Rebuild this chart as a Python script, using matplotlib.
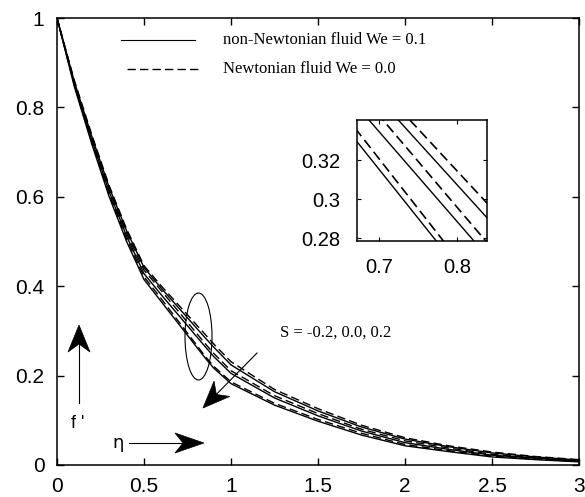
import matplotlib
matplotlib.use("Agg")
import matplotlib.pyplot as plt
from matplotlib.patches import Ellipse, Polygon
from matplotlib.lines import Line2D

# similarity variable
eta = [0.0, 0.1, 0.2, 0.3, 0.4, 0.5, 0.6, 0.65, 0.7, 0.8, 0.85, 0.9, 1.0,
       1.25, 1.5, 1.75, 2.0, 2.25, 2.5, 2.75, 3.0]

# velocity profiles f'(eta), non-Newtonian (We = 0.1) and Newtonian (We = 0.0)
fp_nn_s02 = [1.0, 0.846, 0.718, 0.600, 0.500, 0.415, 0.3651, 0.3401, 0.3151, 0.2651, 0.2401, 0.217, 0.182,
             0.134, 0.098, 0.067, 0.043, 0.030, 0.018, 0.012, 0.007]
fp_nw_s02 = [1.0, 0.849, 0.722, 0.605, 0.506, 0.421, 0.3715, 0.3460, 0.3205, 0.2695, 0.2440, 0.221, 0.186,
             0.138, 0.102, 0.071, 0.046, 0.032, 0.020, 0.013, 0.008]
fp_nn_s00 = [1.0, 0.852, 0.727, 0.611, 0.512, 0.428, 0.3804, 0.3574, 0.3344, 0.2884, 0.2654, 0.243, 0.205,
             0.150, 0.110, 0.076, 0.050, 0.035, 0.022, 0.015, 0.009]
fp_nw_s00 = [1.0, 0.855, 0.731, 0.616, 0.518, 0.436, 0.3897, 0.3662, 0.3427, 0.2957, 0.2722, 0.250, 0.211,
             0.155, 0.115, 0.080, 0.054, 0.038, 0.024, 0.016, 0.010]
fp_nn_sm02 = [1.0, 0.857, 0.735, 0.621, 0.524, 0.442, 0.3952, 0.3732, 0.3512, 0.3072, 0.2852, 0.264, 0.224,
              0.164, 0.121, 0.085, 0.058, 0.041, 0.027, 0.018, 0.011]
fp_nw_sm02 = [1.0, 0.860, 0.739, 0.625, 0.528, 0.446, 0.4003, 0.3788, 0.3573, 0.3143, 0.2928, 0.271, 0.231,
              0.169, 0.126, 0.089, 0.061, 0.043, 0.029, 0.019, 0.012]

solid_curves = [fp_nn_s02, fp_nn_s00, fp_nn_sm02]
dashed_curves = [fp_nw_s02, fp_nw_s00, fp_nw_sm02]

x_ticks = [0, 0.5, 1, 1.5, 2, 2.5, 3]
x_ticklabels = ["0", "0.5", "1", "1.5", "2", "2.5", "3"]
y_ticks = [0, 0.2, 0.4, 0.6, 0.8, 1]
y_ticklabels = ["0", "0.2", "0.4", "0.6", "0.8", "1"]
inset_x_ticks = [0.7, 0.8]
inset_x_ticklabels = ["0.7", "0.8"]
inset_y_ticks = [0.28, 0.30, 0.32]
inset_y_ticklabels = ["0.28", "0.3", "0.32"]

legend_labels = ["non-Newtonian fluid We = 0.1", "Newtonian fluid We = 0.0"]
s_label = "S = -0.2, 0.0, 0.2"

W, H = 585, 497
SANS = "Liberation Sans"
SERIF = "Liberation Serif"
DASH = (6, 3)


def fx(x):
    return x / W


def fy(y):
    return 1 - y / H


def fpt(x, y):
    return (fx(x), fy(y))


fig = plt.figure(figsize=(W / 100, H / 100), dpi=100)

ax = fig.add_axes([fx(57), fy(465), fx(579) - fx(57), fy(18) - fy(465)])
for c in solid_curves:
    ax.plot(eta, c, color="black", lw=1.0, solid_joinstyle="round")
for c in dashed_curves:
    ax.plot(eta, c, color="black", lw=1.0, dashes=DASH)
ax.set_xlim(0, 3)
ax.set_ylim(0, 1)
ax.set_xticks(x_ticks)
ax.set_xticklabels(x_ticklabels)
ax.set_yticks(y_ticks)
ax.set_yticklabels(y_ticklabels)
ax.tick_params(direction="in", top=True, right=True, length=5, width=1.0,
               labelsize=15, pad=9)
for lab in ax.get_xticklabels() + ax.get_yticklabels():
    lab.set_family(SANS)
for sp in ax.spines.values():
    sp.set_linewidth(1.1)

# inset: magnified view around eta = 0.75
axi = fig.add_axes([fx(357), fy(241), fx(487) - fx(357), fy(120) - fy(241)])
for c in solid_curves:
    axi.plot(eta, c, color="black", lw=1.0)
for c in dashed_curves:
    axi.plot(eta, c, color="black", lw=1.2, dashes=DASH)
axi.set_xlim(0.6714, 0.838)
axi.set_ylim(0.2786, 0.3405)
axi.set_xticks(inset_x_ticks)
axi.set_xticklabels(inset_x_ticklabels)
axi.set_yticks(inset_y_ticks)
axi.set_yticklabels(inset_y_ticklabels)
axi.tick_params(direction="in", top=True, right=True, length=3, width=0.8,
                labelsize=14.5, pad=12)
for lab in axi.get_xticklabels() + axi.get_yticklabels():
    lab.set_family(SANS)
for sp in axi.spines.values():
    sp.set_linewidth(1.1)

# legend
fig.add_artist(Line2D([fx(121), fx(195)], [fy(40), fy(40)], color="black", lw=0.8))
fig.add_artist(Line2D([fx(127), fx(200)], [fy(69), fy(69)], color="black", lw=1.0, dashes=DASH))
fig.text(fx(223), fy(40), legend_labels[0], family=SERIF, fontsize=12, va="center", ha="left")
fig.text(fx(223), fy(69), legend_labels[1], family=SERIF, fontsize=12, va="center", ha="left")


def arrow(tail, tip, head_len=27, head_w=22, notch=8):
    tx, ty = tail
    hx, hy = tip
    dx, dy = hx - tx, hy - ty
    n = (dx ** 2 + dy ** 2) ** 0.5
    ux, uy = dx / n, dy / n
    px, py = -uy, ux
    bx, by = hx - head_len * ux, hy - head_len * uy
    nx, ny = hx - (head_len - notch) * ux, hy - (head_len - notch) * uy
    fig.add_artist(Line2D([fx(tx), fx(nx)], [fy(ty), fy(ny)], color="black", lw=0.8))
    verts = [fpt(hx, hy),
             fpt(bx + head_w / 2 * px, by + head_w / 2 * py),
             fpt(nx, ny),
             fpt(bx - head_w / 2 * px, by - head_w / 2 * py)]
    fig.add_artist(Polygon(verts, closed=True, facecolor="black", edgecolor="black", lw=0.5))


arrow((79, 403), (79, 325))
arrow((129, 443), (204, 443), head_len=29, head_w=20)
arrow((257, 353), (203, 408))

fig.text(fx(78), fy(423), "f '", family=SANS, fontsize=13, ha="center", va="center")
fig.text(fx(118), fy(443), "η", family="DejaVu Sans", fontsize=13, ha="center", va="center")
fig.text(fx(280), fy(333), s_label, family=SERIF, fontsize=12, ha="left", va="center")

fig.add_artist(Ellipse(fpt(198.5, 336.5), 27 / W, 87 / H, fill=False, edgecolor="black", lw=0.8))

fig.savefig("out.png", dpi=100)
